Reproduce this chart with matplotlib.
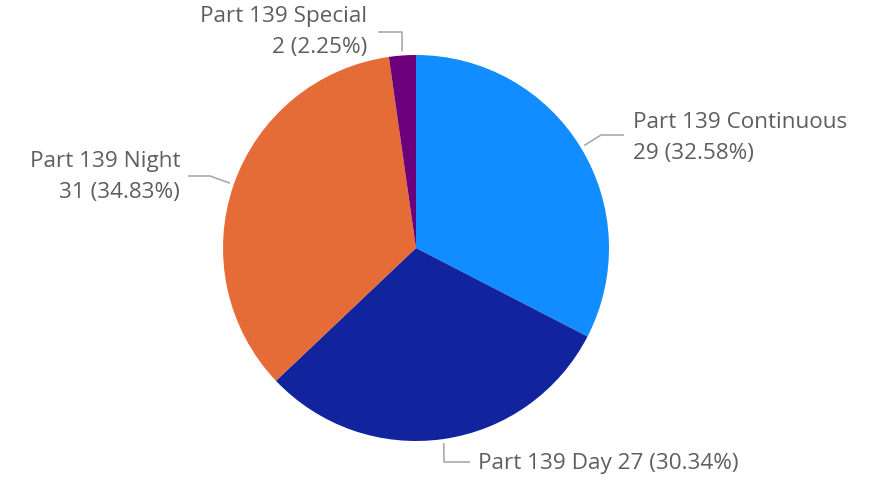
import matplotlib.pyplot as plt
import numpy as np

labels = ['Part 139 Continuous', 'Part 139 Day', 'Part 139 Night', 'Part 139 Special']
values = [29, 27, 31, 2]
colors = ['#118DFF', '#12239E', '#E66C37', '#6B007B']

W, H = 877, 480
cx, cy, r = 416, H - 248, 193

plt.rcParams['font.family'] = ['Open Sans', 'DejaVu Sans']

fig = plt.figure(figsize=(W / 100, H / 100), dpi=100)
ax = fig.add_axes([0, 0, 1, 1])

wedges, _ = ax.pie(values, colors=colors, startangle=90, counterclock=False,
                   center=(cx, cy), radius=r, frame=True,
                   wedgeprops=dict(linewidth=0))
ax.set_xlim(0, W)
ax.set_ylim(0, H)
ax.set_aspect('equal')
ax.axis('off')

total = sum(values)
pct = [f'{v} ({v / total * 100:.2f}%)' for v in values]

# leader line elbows (pixel coords, y from top) and text placement
layout = [
    dict(elbow=[(601, 135), (624, 135)], text=(633, 138), ha='left', two=True),
    dict(elbow=[(444, 462), (470, 462)], text=(478, 463), ha='left', two=False),
    dict(elbow=[(210, 176), (188, 176)], text=(180, 177), ha='right', two=True),
    dict(elbow=[(402, 32), (378, 32)], text=(367, 32), ha='right', two=True),
]

col = '#605E5C'
fs = 16.2
for w, lab, p, lay in zip(wedges, labels, pct, layout):
    mid = np.deg2rad((w.theta1 + w.theta2) / 2)
    sx = cx + (r + 4) * np.cos(mid)
    sy = cy + (r + 4) * np.sin(mid)
    xs = [sx] + [e[0] for e in lay['elbow']]
    ys = [sy] + [H - e[1] for e in lay['elbow']]
    ax.plot(xs, ys, color='#aaaaaa', lw=1.2, solid_capstyle='butt')
    tx, ty = lay['text']
    if lay['two']:
        ax.text(tx, H - ty, f'{lab}\n{p}', ha=lay['ha'], va='center',
                fontsize=fs, color=col, linespacing=1.6)
    else:
        ax.text(tx, H - ty, f'{lab} {p}', ha=lay['ha'], va='center',
                fontsize=fs, color=col)

fig.savefig('out.png', dpi=100)
